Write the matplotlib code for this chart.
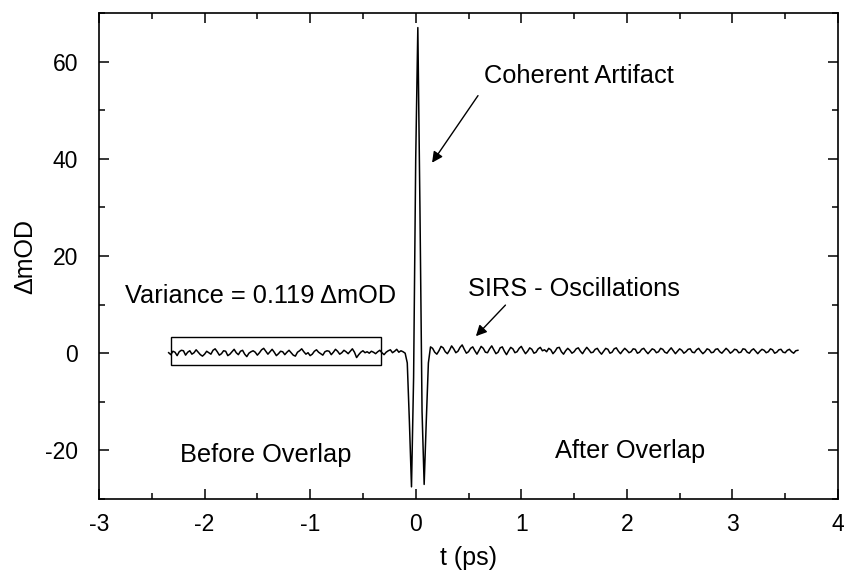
import numpy as np
import matplotlib
matplotlib.use("Agg")
import matplotlib.pyplot as plt
from matplotlib.ticker import MultipleLocator
from matplotlib.patches import Rectangle

plt.rcParams['font.family'] = ['Liberation Sans', 'DejaVu Sans']
plt.rcParams['axes.unicode_minus'] = False

# ---- data ----
t_start = -2.34
t_step = 0.02

before_overlap = [
    0.1, -0.3, 0.4, 0.2, -0.5, 0.3, 0.6, 0.5, -0.4, 0.2,
    0.5, -0.2, 0.1, 0.7, 0.2, -0.3, -0.6, -0.2, 0.4, 0.1,
    -0.2, 0.6, 0.9, 0.3, -0.4, -0.1, 0.5, 0.4, -0.5, -0.2,
    0.3, 0.8, 0.1, -0.3, 0.4, 0.6, -0.2, -0.7, 0.0, 0.3,
    0.5, 0.2, -0.4, 0.1, 0.7, 1.0, 0.4, -0.2, 0.3, 0.8,
    0.2, -0.5, -0.1, 0.4, 0.3, -0.3, 0.2, 0.6, 0.1, -0.4,
    -0.6, 0.2, 0.5, 0.9, 0.3, -0.2, 0.1, -0.5, -0.2, 0.4,
    0.7, 0.2, -0.1, -0.4, 0.3, 0.5, 0.4, -0.3, 0.2, 0.8,
    0.4, -0.2, 0.1, 0.6, 0.3, -0.1, 0.4, 0.9, 0.2, -0.9,
    -0.3, 0.2, 0.5, 0.1, 0.3, 0.0, 0.4, 0.2, -0.1, 0.3,
    0.6, 0.1, -0.3, 0.2, 0.5, 0.7, 0.1, 0.4, 0.8, 0.2,
    0.5, 0.3,
]

coherent_artifact = [0.0, -2.0, -14.0, -27.5, -5.0, 40.0, 67.0, 30.0, -12.0, -27.0, -14.0, -2.0]

after_overlap = [
    1.3, 1.0, 0.2, -0.2, 0.5, 1.4, 1.1, 0.3, -0.1, 0.6,
    1.5, 0.9, 0.1, 0.4, 1.2, 1.7, 0.8, 0.0, 0.3, 1.0,
    1.3, 0.5, -0.2, 0.6, 1.4, 1.0, 0.2, 0.1, 0.9, 1.5,
    0.7, -0.1, 0.2, 1.1, 1.3, 0.4, -0.3, 0.5, 1.2, 0.9,
    0.1, 0.3, 1.0, 1.4, 0.6, -0.1, 0.4, 1.1, 0.8, 0.0,
    0.2, 0.9, 1.2, 0.5, 0.7, 0.3, 1.0, 0.7, -0.1, 0.4,
    1.1, 1.2, 0.3, -0.2, 0.5, 1.0, 0.6, 0.0, 0.3, 0.9,
    1.1, 0.4, -0.1, 0.6, 1.2, 0.7, 0.1, 0.2, 0.8, 1.0,
    0.3, -0.2, 0.4, 1.0, 0.8, 0.0, 0.2, 0.9, 1.1, 0.4,
    -0.1, 0.5, 1.0, 0.6, 0.1, 0.3, 0.9, 0.8, 0.0, 0.2,
    0.8, 1.0, 0.4, -0.1, 0.4, 0.9, 0.7, 0.1, 0.3, 1.0,
    0.8, 0.2, 0.0, 0.6, 1.1, 0.5, -0.1, 0.4, 0.9, 0.6,
    0.0, 0.3, 0.8, 0.9, 0.2, 0.1, 0.7, 1.0, 0.4, -0.1,
    0.3, 0.9, 0.7, 0.1, 0.2, 0.8, 0.9, 0.3, 0.0, 0.5,
    1.0, 0.6, 0.0, 0.3, 0.8, 0.7, 0.1, 0.2, 0.9, 0.8,
    0.2, 0.0, 0.6, 0.9, 0.4, -0.1, 0.4, 0.8, 0.6, 0.1,
    0.3, 0.9, 0.7, 0.0, 0.2, 0.7, 0.8, 0.2, 0.1, 0.6,
    0.8, 0.3, 0.0, 0.5, 0.6,
]

signal = np.array(before_overlap + coherent_artifact + after_overlap)
t = t_start + t_step * np.arange(len(signal))

variance_box_t = [-2.32, -0.33]
variance_box_y = [-2.5, 3.3]

# ---- figure ----
fig = plt.figure(figsize=(8.47, 5.81), dpi=100)
ax = fig.add_axes([99 / 847, 1 - 499 / 581, (838 - 99) / 847, (499 - 13) / 581])

ax.plot(t, signal, color='black', lw=1.1)

ax.add_patch(Rectangle((variance_box_t[0], variance_box_y[0]),
                       variance_box_t[1] - variance_box_t[0],
                       variance_box_y[1] - variance_box_y[0],
                       fill=False, edgecolor='black', lw=1.0))

ax.set_xlim(-3, 4)
ax.set_ylim(-30, 70)
ax.xaxis.set_major_locator(MultipleLocator(1))
ax.xaxis.set_minor_locator(MultipleLocator(0.5))
ax.yaxis.set_major_locator(MultipleLocator(20))
ax.yaxis.set_minor_locator(MultipleLocator(10))
ax.tick_params(which='both', direction='in', top=True, right=True, width=1.1)
ax.tick_params(which='major', length=7.5)
ax.tick_params(which='minor', length=4)
ax.tick_params(axis='x', which='major', labelsize=16.5, pad=10)
ax.tick_params(axis='y', which='major', labelsize=16.5, pad=15)
for s in ax.spines.values():
    s.set_linewidth(1.2)

ax.set_xlabel('t (ps)', fontsize=18, labelpad=7)
ax.set_ylabel('ΔmOD', fontsize=18, labelpad=6)

fs = 18.3
arrow_kw = dict(arrowstyle='-|>', color='black', lw=1.0,
                mutation_scale=16, shrinkA=0, shrinkB=0)
ax.annotate('', xy=(0.155, 39.2), xytext=(0.59, 53), arrowprops=arrow_kw)
ax.annotate('', xy=(0.57, 3.5), xytext=(0.85, 9.9), arrowprops=arrow_kw)
ax.text(0.65, 57, 'Coherent Artifact', fontsize=fs, ha='left', va='center')
ax.text(0.50, 13.3, 'SIRS - Oscillations', fontsize=fs, ha='left', va='center')
ax.text(-2.75, 11.7, 'Variance = 0.119 ΔmOD', fontsize=fs, ha='left', va='center')
ax.text(-2.23, -21, 'Before Overlap', fontsize=fs, ha='left', va='center')
ax.text(1.32, -20.2, 'After Overlap', fontsize=fs, ha='left', va='center')

fig.savefig('out.png', dpi=100)
